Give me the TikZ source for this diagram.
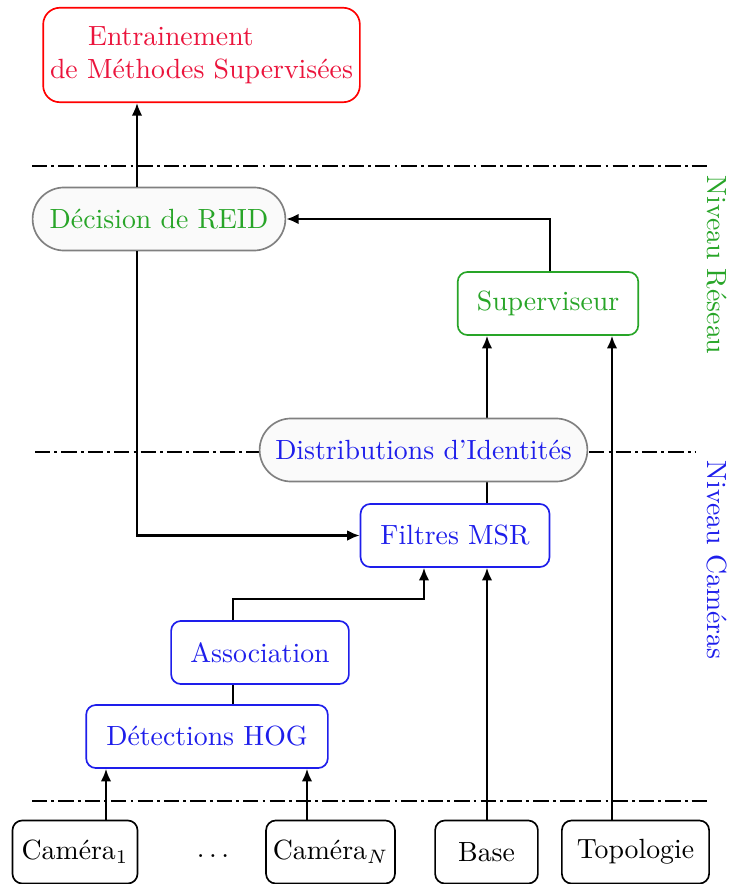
\documentclass[tikz,border=0pt]{standalone}
\usepackage{fontspec}
\usepackage{amsmath}
\usepackage{tikz}
\usetikzlibrary{shapes.misc,backgrounds,arrows.meta}
\definecolor{reseau}{RGB}{40,165,40}
\definecolor{camera}{RGB}{30,30,235}
\definecolor{entrain}{RGB}{235,20,60}

\begin{document}
\begin{tikzpicture}[x=3.6pt,y=3.6pt,>={Latex[length=4.5pt,width=3.8pt]}]
    \tikzstyle{every node}+=[inner sep=0pt]
    \tikzstyle{boite}=[draw, rounded corners=3.5pt, minimum height=22.7pt, fill=white, semithick]
    \tikzstyle{pilule}=[draw=gray, rounded rectangle, minimum height=22.7pt, fill=gray!4, semithick]
    \tikzstyle{niveau}=[black, thick, dash pattern=on 5.5pt off 1.5pt on 1pt off 1.5pt]
    \tikzstyle{fleche}=[black, thick, ->]
    \useasboundingbox (0,0) rectangle (73.2,-88.4);
    % reseau
    \node [boite, draw=red, text=entrain, rounded corners=6pt, minimum width=114pt, minimum height=34pt, align=center] (train) at (20.15,-5.5) {Entrainement\hspace*{2.2em}\\de Méthodes Supervisées};
    \node [pilule, text=reseau, minimum width=91pt] (reid) at (15.9,-21.9) {Décision de REID};
    \node [boite, draw=reseau, text=reseau, minimum width=65pt] (superv) at (54.8,-30.35) {Superviseur};
    % cameras
    \node [pilule, text=camera, minimum width=118pt] (distrib) at (42.35,-45.0) {Distributions d'Identités};
    \node [boite, draw=camera, text=camera, minimum width=68pt] (msr) at (45.5,-53.55) {Filtres MSR};
    \node [boite, draw=camera, text=camera, minimum width=64pt] (assoc) at (26.0,-65.25) {Association};
    \node [boite, draw=camera, text=camera, minimum width=87pt] (hog) at (20.7,-73.65) {Détections HOG};
    % entrees
    \node [boite, minimum width=45pt] (cam1) at (7.5,-85.2) {Caméra$_1$};
    \node (dots) at (21.3,-85.6) {$\ldots$};
    \node [boite, minimum width=46.4pt] (camN) at (33.05,-85.2) {Caméra$_N$};
    \node [boite, minimum width=37pt] (base) at (48.65,-85.2) {Base};
    \node [boite, minimum width=53pt] (topo) at (63.55,-85.2) {Topologie};
    % niveaux
    \node [reseau, rotate=-90] (nres) at (71.7,-26.5) {Niveau Réseau};
    \node [camera, rotate=-90] (ncam) at (71.7,-56.0) {Niveau Caméras};
    % pistes verticales
    \coordinate (xa) at (13.7,0);
    \coordinate (xb) at (48.7,0);
    \coordinate (xs) at (55.0,0);
    \coordinate (xt) at (61.2,0);
    \coordinate (xc) at (23.3,0);
    \coordinate (coude) at (42.4,-59.9);
    \coordinate (xh1) at (10.6,0);
    \coordinate (xh2) at (30.7,0);
    \begin{pgfonlayer}{background}
        \draw [niveau] (3.2,-16.6) -- (71.0,-16.6);
        \draw [niveau] (3.5,-45.2) -- (69.5,-45.2);
        \draw [niveau] (3.2,-80.1) -- (71.0,-80.1);
        \draw [fleche] (msr.north -| xb) -- (superv.south -| xb);
    \end{pgfonlayer}
    \draw [fleche] (reid.north -| xa) -- (train.south -| xa);
    \draw [fleche] (superv.north -| xs) |- (reid.east);
    \draw [fleche] (reid.south -| xa) |- (msr.west);
    \draw [fleche] (base.north -| xb) -- (msr.south -| xb);
    \draw [fleche] (topo.north -| xt) -- (superv.south -| xt);
    \draw [fleche] (assoc.north -| xc) |- (coude) -- (msr.south -| coude);
    \draw [thick] (assoc.south -| xc) -- (hog.north -| xc);
    \draw [fleche] (cam1.north -| xh1) -- (hog.south -| xh1);
    \draw [fleche] (camN.north -| xh2) -- (hog.south -| xh2);
\end{tikzpicture}
\end{document}
